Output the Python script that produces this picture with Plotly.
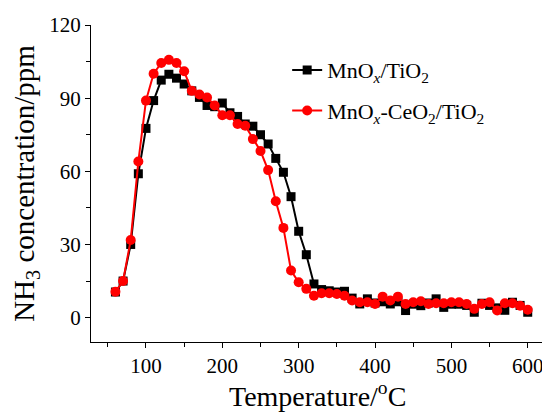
import plotly.graph_objects as go

temperature = list(range(60, 610, 10))

mnox_tio2 = [10.5, 15, 30, 59, 77.6, 89, 97.4, 99.8, 98.2, 95.8,
             93, 90.3, 87, 86.5, 88, 84, 82.5, 79.4, 78.5, 75,
             71.2, 65.3, 59.6, 49.6, 35.4, 25.8, 13.8, 11.5, 11, 10.5,
             10.8, 8, 5.6, 7.7, 6, 6.5, 5.6, 6.5, 2.9, 5.5,
             4.9, 6, 7.7, 4.2, 5.5, 5.5, 5, 2.2, 5.9, 5,
             4, 3, 6.3, 5, 2.2]

mnox_ceo2_tio2 = [10.6, 15, 31.8, 64, 89, 100, 104.4, 105.7, 104.4, 101,
                  93, 91.5, 90.3, 87, 83, 83, 79.4, 78.7, 73.2, 68.3,
                  60.5, 47.7, 36.8, 19.3, 14.5, 11.8, 9, 10, 10, 9.7,
                  9, 7, 6.3, 6.3, 5.6, 8.6, 7, 8.6, 5.6, 6.3,
                  6.7, 5.6, 5.9, 5.9, 6.3, 6.3, 5.6, 3.6, 5.6, 6.3,
                  2.9, 5.9, 5.9, 4.9, 3.2]

names = ["MnO<sub><i>x</i></sub>/TiO<sub>2</sub>",
         "MnO<sub><i>x</i></sub>-CeO<sub>2</sub>/TiO<sub>2</sub>"]

x_title = "Temperature/<sup>o</sup>C"
y_title = "NH<sub>3</sub> concentration/ppm"

x_ticks = [100, 200, 300, 400, 500, 600]
y_ticks = [0, 30, 60, 90, 120]

FONT = "Liberation Serif, Times New Roman, serif"

fig = go.Figure()
fig.add_trace(go.Scatter(
    x=temperature, y=mnox_tio2, mode="lines+markers", name=names[0],
    legendgroup="a",
    line=dict(color="black", width=2),
    marker=dict(symbol="square", size=9, color="black"),
))
fig.add_trace(go.Scatter(
    x=temperature, y=mnox_ceo2_tio2, mode="lines+markers", name=names[1],
    legendgroup="b",
    line=dict(color="#ff0000", width=2),
    marker=dict(symbol="circle", size=10, color="#ff0000"),
))

# The page body has an 8px default margin, so the figure is drawn 8px smaller
fig.update_layout(
    width=542, height=404,
    margin=dict(l=83, r=7, t=17, b=70, autoexpand=False),
    paper_bgcolor="white", plot_bgcolor="white",
    font=dict(family=FONT, color="black", size=21),
    showlegend=True,
    legend=dict(x=0.434, y=0.924, xanchor="left", yanchor="top",
                bgcolor="rgba(0,0,0,0)", font=dict(size=22, family=FONT),
                itemwidth=30, tracegroupgap=9),
    xaxis=dict(
        range=[28, 620], tickvals=x_ticks, ticks="outside", ticklen=5,
        tickwidth=1, tickcolor="black", showline=True, linecolor="black",
        linewidth=1, showgrid=False, zeroline=False, automargin=False,
        tickfont=dict(size=21, family=FONT),
        minor=dict(dtick=50, tick0=0, ticks="outside", ticklen=4, tickcolor="black", showgrid=False),
    ),
    yaxis=dict(
        range=[-10, 120], tickvals=y_ticks, ticks="outside", ticklen=5,
        tickwidth=1, tickcolor="black", showline=True, linecolor="black",
        linewidth=1, showgrid=False, zeroline=False, automargin=False,
        tickfont=dict(size=21, family=FONT),
        minor=dict(dtick=15, tick0=0, ticks="outside", ticklen=4, tickcolor="black", showgrid=False),
        title=dict(text=y_title, font=dict(size=29, family=FONT), standoff=10),
    ),
    annotations=[dict(
        text=x_title, xref="paper", yref="paper", x=0.5, y=-0.166,
        xanchor="center", yanchor="middle", showarrow=False,
        font=dict(size=28, family=FONT, color="black"),
    )],
)

fig.write_html("out.html")
